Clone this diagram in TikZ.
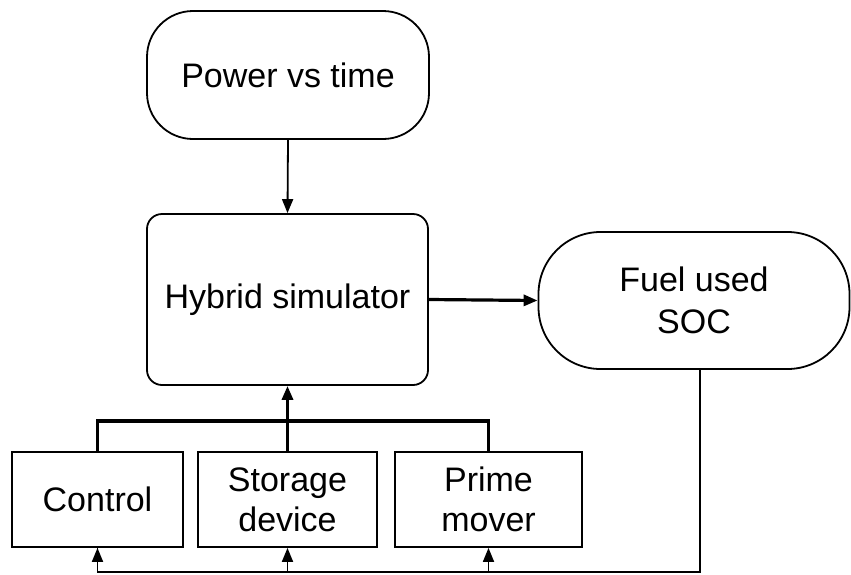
\documentclass[tikz,border=0pt]{standalone}
\usepackage{fontspec}
\setmainfont{Liberation Sans}
\usetikzlibrary{arrows.meta}
\begin{document}
\begin{tikzpicture}[x=1pt,y=-1pt,
  every node/.style={font=\fontsize{34}{40}\selectfont},
  box/.style={draw=black,line width=1.8pt,inner sep=0pt,align=center},
  thinline/.style={line width=1.8pt},
  thickline/.style={line width=3.2pt},
  arr/.style={-{Triangle[length=14pt,width=11pt]}}]
\useasboundingbox (0,0) rectangle (851,574);
\node[box,rounded corners=46pt,minimum width=282pt,minimum height=128pt] (power) at (288,75) {Power vs time};
\node[box,rounded corners=15pt,minimum width=281pt,minimum height=171pt] (hybrid) at (287.5,299.5) {Hybrid simulator};
\node[box,rounded corners=62pt,minimum width=311pt,minimum height=137pt,align=center] (fuel) at (694,300.5) {Fuel used\\[2pt]SOC};
\node[box,minimum width=171pt,minimum height=95pt] (control) at (97.5,499.5) {Control};
\node[box,minimum width=179pt,minimum height=95pt] (storage) at (287.5,499.5) {Storage\\device};
\node[box,minimum width=187pt,minimum height=95pt] (prime) at (488.5,499.5) {Prime\\mover};
\coordinate (bus) at (288,421);
\coordinate (fb) at (700,572);
\draw[thinline,arr] (power.south) -- (hybrid.north);
\draw[thickline,arr] (hybrid.east) -- (fuel.west);
\draw[thickline] (control.north) |- (bus) -| (prime.north);
\draw[thickline,arr] (storage.north) -- (hybrid.south);
\draw[thinline] ([xshift=6pt]fuel.south) -- (fb) -| (control.south);
\draw[thinline,arr] (control.south |- fb) -- (control.south);
\draw[thinline,arr] (storage.south |- fb) -- (storage.south);
\draw[thinline,arr] (prime.south |- fb) -- (prime.south);
\end{tikzpicture}
\end{document}
